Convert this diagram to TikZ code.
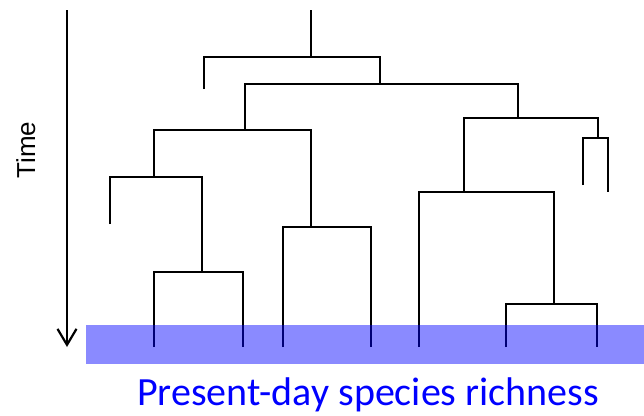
\documentclass[tikz,border=0pt]{standalone}
\usepackage{fontspec}
\setmainfont{Carlito}
\newfontfamily\axisfont{Liberation Sans}
\usetikzlibrary{arrows.meta}
\definecolor{bandblue}{RGB}{0,0,255}
\tikzset{
  branch/.style={line width=2.2pt, black},
  timeaxis/.style={line width=2.2pt, black, -{Straight Barb[length=16pt,width=19pt,line width=2.2pt]}},
  band/.style={fill=bandblue, fill opacity=0.46, draw=none},
}
\begin{document}
\begin{tikzpicture}[x=1pt,y=-1pt]
\useasboundingbox (0,0) rectangle (644,415);

% time axis
\coordinate (ttop) at (67,10);
\coordinate (tbot) at (67,347);
\draw[timeaxis] (ttop) -- (tbot);
\node[font=\axisfont\fontsize{26}{26}\selectfont, rotate=90, anchor=base] (timelbl) at (35,150) {Time};

% tree nodes (x, y) with y growing downwards
\coordinate (root) at (311,10);
\coordinate (n1)  at (311,57);
\coordinate (n2)  at (380,84);
\coordinate (n3)  at (245,130);
\coordinate (n4)  at (518,118);
\coordinate (n5)  at (154,177);
\coordinate (n6)  at (311,227);
\coordinate (n7)  at (202,272);
\coordinate (n8)  at (464,192);
\coordinate (n9)  at (598,138);
\coordinate (n10) at (554,304);
% tips
\coordinate (t1)  at (204,89);
\coordinate (t2)  at (110,224);
\coordinate (t3)  at (154,347);
\coordinate (t4)  at (243,347);
\coordinate (t5)  at (283,347);
\coordinate (t6)  at (371,347);
\coordinate (t7)  at (583,185);
\coordinate (t8)  at (608,192);
\coordinate (t9)  at (419,347);
\coordinate (t10) at (506,347);
\coordinate (t11) at (597,347);

% branches
\draw[branch] (root) -- (n1);
\draw[branch] (t1) |- (n1) -| (n2);
\draw[branch] (n3) |- (n2) -| (n4);
\draw[branch] (n5) |- (n3) -| (n6);
\draw[branch] (t2) |- (n5) -| (n7);
\draw[branch] (t3) |- (n7) -| (t4);
\draw[branch] (t5) |- (n6) -| (t6);
\draw[branch] (n8) |- (n4) -| (n9);
\draw[branch] (t7) |- (n9) -| (t8);
\draw[branch] (t9) |- (n8) -| (n10);
\draw[branch] (t10) |- (n10) -| (t11);

% present-day band
\path[band] (86,325) rectangle (644,364);
\node[font=\fontsize{40}{40}\selectfont, text=bandblue, anchor=base, inner sep=0pt] (present) at (368,405) {Present-day species richness};
\end{tikzpicture}
\end{document}
